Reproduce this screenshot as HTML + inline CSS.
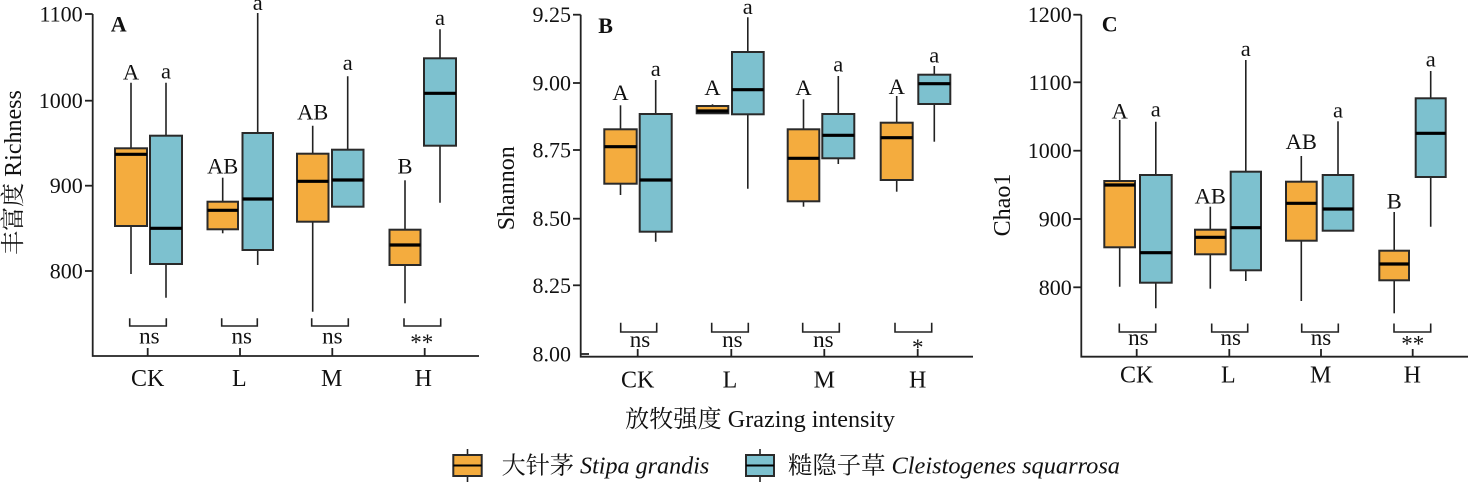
<!DOCTYPE html>
<html><head><meta charset="utf-8"><style>
html,body{margin:0;padding:0;background:#fff;}
svg{display:block;}
text{font-family:"Liberation Serif","Noto Serif CJK SC",serif;fill:#111;}
.tk{font-size:22px;text-anchor:end;}
.xl{font-size:24px;text-anchor:middle;}
.lt{font-size:22.5px;text-anchor:middle;}
.ns{font-size:23px;text-anchor:middle;}
.pl{font-size:22px;font-weight:bold;}
.ax{stroke:#222;stroke-width:1.8;fill:none;}
.wk{stroke:#222;stroke-width:1.6;}
.bo{fill:#F4AC3E;stroke:#2a2a2a;stroke-width:2;}
.bb{fill:#7DC1CF;stroke:#2a2a2a;stroke-width:2;}
.md{stroke:#000;stroke-width:3.2;}
.br{stroke:#222;stroke-width:1.6;fill:none;}
</style></head><body>
<svg width="1470" height="482" viewBox="0 0 1470 482" xmlns="http://www.w3.org/2000/svg">
<rect width="1470" height="482" fill="#fff"/>

<!-- ================= Panel A ================= -->
<path class="ax" d="M92.7 14 L92.7 356 L479 356"/>
<g class="ax">
<line x1="85" y1="14" x2="92.7" y2="14"/><line x1="85" y1="100.7" x2="92.7" y2="100.7"/>
<line x1="85" y1="185.7" x2="92.7" y2="185.7"/><line x1="85" y1="271" x2="92.7" y2="271"/>
<line x1="147.7" y1="348" x2="147.7" y2="356"/><line x1="240" y1="348" x2="240" y2="356"/>
<line x1="332.3" y1="348" x2="332.3" y2="356"/><line x1="424.7" y1="348" x2="424.7" y2="356"/>
</g>
<text class="tk" x="82.7" y="21.5">1100</text>
<text class="tk" x="82.7" y="108.2">1000</text>
<text class="tk" x="82.7" y="193.2">900</text>
<text class="tk" x="82.7" y="278.5">800</text>
<text class="xl" x="147.7" y="386">CK</text>
<text class="xl" x="239.3" y="386">L</text>
<text class="xl" x="331.7" y="386">M</text>
<text class="xl" x="423.3" y="386">H</text>
<text x="0" y="0" font-size="24" text-anchor="middle" transform="translate(21,172.5) rotate(-90)">丰富度 Richness</text>
<text class="pl" x="110.7" y="31.7">A</text>

<g class="wk">
<line x1="131" y1="82.7" x2="131" y2="274"/>
<line x1="166" y1="82.7" x2="166" y2="297.7"/>
<line x1="222.7" y1="177.7" x2="222.7" y2="233.3"/>
<line x1="257.7" y1="13" x2="257.7" y2="265"/>
<line x1="312.7" y1="125.7" x2="312.7" y2="311.7"/>
<line x1="347.7" y1="76.3" x2="347.7" y2="206.7"/>
<line x1="405" y1="180.3" x2="405" y2="303.3"/>
<line x1="440" y1="29.3" x2="440" y2="202.7"/>
</g>
<rect class="bo" x="115" y="148.3" width="32" height="77.7"/>
<rect class="bb" x="150" y="135.7" width="32" height="128.3"/>
<rect class="bo" x="207.5" y="201.7" width="30.5" height="27.6"/>
<rect class="bb" x="242.5" y="133" width="30.5" height="117"/>
<rect class="bo" x="297" y="153.7" width="31.5" height="68"/>
<rect class="bb" x="332" y="149.7" width="31.5" height="57"/>
<rect class="bo" x="389.5" y="229.7" width="31" height="35.3"/>
<rect class="bb" x="424" y="58.3" width="32" height="87.4"/>
<g class="md">
<line x1="115" y1="154.3" x2="147" y2="154.3"/>
<line x1="150" y1="228.3" x2="182" y2="228.3"/>
<line x1="207.5" y1="210.3" x2="238" y2="210.3"/>
<line x1="242.5" y1="199" x2="273" y2="199"/>
<line x1="297" y1="181.3" x2="328.5" y2="181.3"/>
<line x1="332" y1="180" x2="363.5" y2="180"/>
<line x1="389.5" y1="245" x2="420.5" y2="245"/>
<line x1="424" y1="93.3" x2="456" y2="93.3"/>
</g>
<text class="lt" x="131" y="79.3">A</text>
<text class="lt" x="166" y="78.3">a</text>
<text class="lt" x="222.7" y="173.3">AB</text>
<text class="lt" x="257.7" y="10">a</text>
<text class="lt" x="312.7" y="119.3">AB</text>
<text class="lt" x="347.7" y="70">a</text>
<text class="lt" x="405" y="173.3">B</text>
<text class="lt" x="440" y="25">a</text>
<g class="br">
<path d="M129.7 318.3 L129.7 326 L166.3 326 L166.3 318.3"/>
<path d="M221.7 318.3 L221.7 326 L257.3 326 L257.3 318.3"/>
<path d="M311.7 318.3 L311.7 326 L348.3 326 L348.3 318.3"/>
<path d="M404 318.3 L404 326 L440.7 326 L440.7 318.3"/>
</g>
<text class="ns" x="149.3" y="343.3">ns</text>
<text class="ns" x="241.7" y="343.3">ns</text>
<text class="ns" x="332.3" y="343.3">ns</text>
<text class="ns" x="421.7" y="350" font-size="24">**</text>

<!-- ================= Panel B ================= -->
<path class="ax" d="M580.7 14.7 L580.7 356.7 L973 356.7"/>
<g class="ax">
<line x1="573" y1="14.7" x2="580.7" y2="14.7"/><line x1="573" y1="83" x2="580.7" y2="83"/>
<line x1="573" y1="150" x2="580.7" y2="150"/><line x1="573" y1="218.7" x2="580.7" y2="218.7"/>
<line x1="573" y1="285.3" x2="580.7" y2="285.3"/><line x1="580.7" y1="354" x2="589" y2="354"/>
<line x1="637.7" y1="349" x2="637.7" y2="356.7"/><line x1="731.3" y1="349" x2="731.3" y2="356.7"/>
<line x1="824.3" y1="349" x2="824.3" y2="356.7"/><line x1="917.7" y1="349" x2="917.7" y2="356.7"/>
</g>
<text class="tk" x="571" y="22.2">9.25</text>
<text class="tk" x="571" y="90.5">9.00</text>
<text class="tk" x="571" y="157.5">8.75</text>
<text class="tk" x="571" y="226.2">8.50</text>
<text class="tk" x="571" y="292.8">8.25</text>
<text class="tk" x="571" y="361.5">8.00</text>
<text class="xl" x="637.7" y="387.3">CK</text>
<text class="xl" x="730" y="387.3">L</text>
<text class="xl" x="824.3" y="387.3">M</text>
<text class="xl" x="917.7" y="387.3">H</text>
<text x="0" y="0" font-size="24" text-anchor="middle" transform="translate(514,188.3) rotate(-90)">Shannon</text>
<text class="pl" x="598.3" y="33">B</text>

<g class="wk">
<line x1="620.5" y1="105.3" x2="620.5" y2="195"/>
<line x1="655.7" y1="80" x2="655.7" y2="241.7"/>
<line x1="712.5" y1="104.3" x2="712.5" y2="113.3"/>
<line x1="747.8" y1="17.3" x2="747.8" y2="188.7"/>
<line x1="803.5" y1="99.3" x2="803.5" y2="206.7"/>
<line x1="838.3" y1="76" x2="838.3" y2="164"/>
<line x1="896.7" y1="96" x2="896.7" y2="191.7"/>
<line x1="934.3" y1="66" x2="934.3" y2="141.7"/>
</g>
<rect class="bo" x="604.3" y="129.3" width="32.4" height="54.4"/>
<rect class="bb" x="639.7" y="114" width="32" height="117.7"/>
<rect class="bo" x="696.7" y="106" width="31.6" height="7.3"/>
<rect class="bb" x="732" y="52" width="31.7" height="62.3"/>
<rect class="bo" x="787.7" y="129.3" width="31.6" height="72"/>
<rect class="bb" x="822.3" y="114" width="32" height="44.3"/>
<rect class="bo" x="880.7" y="122.7" width="32" height="57.3"/>
<rect class="bb" x="918.3" y="74.7" width="32" height="29.3"/>
<g class="md">
<line x1="604.3" y1="146.7" x2="636.7" y2="146.7"/>
<line x1="639.7" y1="180" x2="671.7" y2="180"/>
<line x1="696.7" y1="111" x2="728.3" y2="111"/>
<line x1="732" y1="89.7" x2="763.7" y2="89.7"/>
<line x1="787.7" y1="158.3" x2="819.3" y2="158.3"/>
<line x1="822.3" y1="135.3" x2="854.3" y2="135.3"/>
<line x1="880.7" y1="137.7" x2="912.7" y2="137.7"/>
<line x1="918.3" y1="83.7" x2="950.3" y2="83.7"/>
</g>
<text class="lt" x="620.5" y="100">A</text>
<text class="lt" x="655.7" y="76">a</text>
<text class="lt" x="712.5" y="95">A</text>
<text class="lt" x="747.8" y="14">a</text>
<text class="lt" x="803.5" y="95">A</text>
<text class="lt" x="838.3" y="71.7">a</text>
<text class="lt" x="896.7" y="94">A</text>
<text class="lt" x="934.3" y="62.7">a</text>
<g class="br">
<path d="M620.7 322.7 L620.7 332 L656.7 332 L656.7 322.7"/>
<path d="M711.7 322.7 L711.7 332 L748.3 332 L748.3 322.7"/>
<path d="M802.7 322.7 L802.7 332 L839.3 332 L839.3 322.7"/>
<path d="M895 322.7 L895 332 L931.7 332 L931.7 322.7"/>
</g>
<text class="ns" x="640" y="347">ns</text>
<text class="ns" x="732.3" y="347">ns</text>
<text class="ns" x="823.3" y="347">ns</text>
<text class="ns" x="917.7" y="355" font-size="24">*</text>

<!-- ================= Panel C ================= -->
<path class="ax" d="M1081.3 14.7 L1081.3 356.7 L1468 356.7"/>
<g class="ax">
<line x1="1073.3" y1="14.7" x2="1081.3" y2="14.7"/><line x1="1073.3" y1="82.3" x2="1081.3" y2="82.3"/>
<line x1="1073.3" y1="150.7" x2="1081.3" y2="150.7"/><line x1="1073.3" y1="219" x2="1081.3" y2="219"/>
<line x1="1073.3" y1="287.3" x2="1081.3" y2="287.3"/>
<line x1="1136.7" y1="349" x2="1136.7" y2="356.7"/><line x1="1229.3" y1="349" x2="1229.3" y2="356.7"/>
<line x1="1321" y1="349" x2="1321" y2="356.7"/><line x1="1412.7" y1="349" x2="1412.7" y2="356.7"/>
</g>
<text class="tk" x="1071.7" y="22.2">1200</text>
<text class="tk" x="1071.7" y="89.8">1100</text>
<text class="tk" x="1071.7" y="158.2">1000</text>
<text class="tk" x="1071.7" y="226.5">900</text>
<text class="tk" x="1071.7" y="294.8">800</text>
<text class="xl" x="1136.7" y="382.7">CK</text>
<text class="xl" x="1228.3" y="382.7">L</text>
<text class="xl" x="1320.7" y="382.7">M</text>
<text class="xl" x="1412.3" y="382.7">H</text>
<text x="0" y="0" font-size="24" text-anchor="middle" transform="translate(1010,205) rotate(-90)">Chao1</text>
<text class="pl" x="1101.7" y="31.7">C</text>

<g class="wk">
<line x1="1119.7" y1="120" x2="1119.7" y2="286.7"/>
<line x1="1155.8" y1="121.7" x2="1155.8" y2="308.3"/>
<line x1="1210.3" y1="206.7" x2="1210.3" y2="288.7"/>
<line x1="1245.8" y1="60" x2="1245.8" y2="281"/>
<line x1="1301.3" y1="156" x2="1301.3" y2="301"/>
<line x1="1338" y1="121.3" x2="1338" y2="230.7"/>
<line x1="1394.2" y1="212" x2="1394.2" y2="313.3"/>
<line x1="1430.7" y1="71" x2="1430.7" y2="226.7"/>
</g>
<rect class="bo" x="1104.3" y="181" width="30.7" height="66.3"/>
<rect class="bb" x="1140" y="175" width="31.7" height="107.7"/>
<rect class="bo" x="1195" y="229.7" width="30.7" height="24.6"/>
<rect class="bb" x="1230.7" y="171.7" width="30.3" height="98.6"/>
<rect class="bo" x="1286" y="181.7" width="30.7" height="59"/>
<rect class="bb" x="1322.7" y="175" width="30.6" height="55.7"/>
<rect class="bo" x="1379.3" y="250.7" width="29.7" height="29.6"/>
<rect class="bb" x="1415.7" y="98.3" width="30" height="78.7"/>
<g class="md">
<line x1="1104.3" y1="185" x2="1135" y2="185"/>
<line x1="1140" y1="252.7" x2="1171.7" y2="252.7"/>
<line x1="1195" y1="237.3" x2="1225.7" y2="237.3"/>
<line x1="1230.7" y1="227.7" x2="1261" y2="227.7"/>
<line x1="1286" y1="203.3" x2="1316.7" y2="203.3"/>
<line x1="1322.7" y1="209" x2="1353.3" y2="209"/>
<line x1="1379.3" y1="264" x2="1409" y2="264"/>
<line x1="1415.7" y1="133.3" x2="1445.7" y2="133.3"/>
</g>
<text class="lt" x="1119.7" y="118.3">A</text>
<text class="lt" x="1155.8" y="116.7">a</text>
<text class="lt" x="1210.3" y="203.3">AB</text>
<text class="lt" x="1245.8" y="56">a</text>
<text class="lt" x="1301.3" y="149">AB</text>
<text class="lt" x="1338" y="117.3">a</text>
<text class="lt" x="1394.2" y="208.3">B</text>
<text class="lt" x="1430.7" y="66.7">a</text>
<g class="br">
<path d="M1119.3 323.5 L1119.3 332 L1155.7 332 L1155.7 323.5"/>
<path d="M1211.7 323.5 L1211.7 332 L1247.7 332 L1247.7 323.5"/>
<path d="M1301.7 323.5 L1301.7 332 L1338.3 332 L1338.3 323.5"/>
<path d="M1394 323.5 L1394 332 L1430.7 332 L1430.7 323.5"/>
</g>
<text class="ns" x="1138.3" y="345">ns</text>
<text class="ns" x="1230.7" y="345">ns</text>
<text class="ns" x="1321" y="345">ns</text>
<text class="ns" x="1412.7" y="351.5" font-size="24">**</text>

<!-- ================= X title & legend ================= -->
<text x="625" y="427" font-size="24" textLength="270" lengthAdjust="spacingAndGlyphs">放牧强度 Grazing intensity</text>

<line class="wk" x1="467.5" y1="449" x2="467.5" y2="482"/>
<rect class="bo" x="453.3" y="455" width="28.4" height="21"/>
<line stroke="#000" stroke-width="2" x1="453.3" y1="465.5" x2="481.7" y2="465.5"/>
<text x="501.7" y="473.5" font-size="24" textLength="207.6" lengthAdjust="spacingAndGlyphs">大针茅 <tspan font-style="italic">Stipa grandis</tspan></text>

<line class="wk" x1="760" y1="449" x2="760" y2="482"/>
<rect class="bb" x="746" y="455" width="28" height="21"/>
<line stroke="#000" stroke-width="2" x1="746" y1="465.5" x2="774" y2="465.5"/>
<text x="788" y="473.5" font-size="24" textLength="332" lengthAdjust="spacingAndGlyphs">糙隐子草 <tspan font-style="italic">Cleistogenes squarrosa</tspan></text>
</svg>
</body></html>
